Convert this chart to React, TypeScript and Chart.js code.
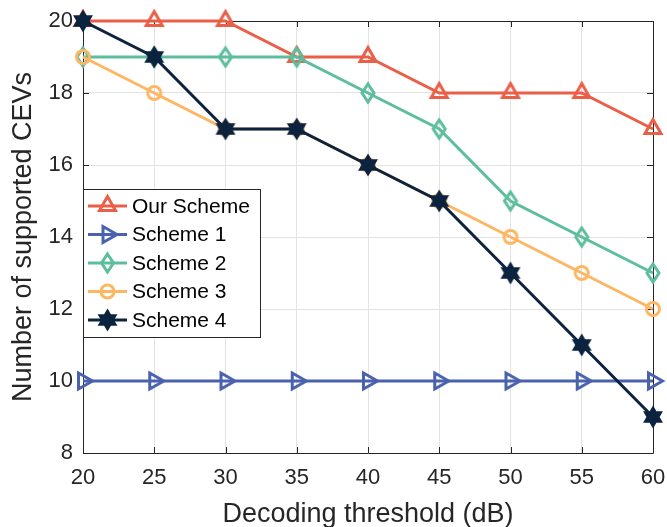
import React, { useEffect, useRef } from "react";
import { Chart, registerables } from "chart.js";

Chart.register(...registerables);

const thresholds = [20, 25, 30, 35, 40, 45, 50, 55, 60];
const ourScheme = [20, 20, 20, 19, 19, 18, 18, 18, 17];
const scheme1 = [10, 10, 10, 10, 10, 10, 10, 10, 10];
const scheme2 = [19, 19, 19, 19, 18, 17, 15, 14, 13];
const scheme3 = [19, 18, 17, 17, 16, 15, 14, 13, 12];
const scheme4 = [20, 19, 17, 17, 16, 15, 13, 11, 9];
const seriesNames = ["Our Scheme", "Scheme 1", "Scheme 2", "Scheme 3", "Scheme 4"];
const seriesValues = [ourScheme, scheme1, scheme2, scheme3, scheme4];
const seriesColors = ["#EA5F48", "#4A62AE", "#5DBE9E", "#FDB764", "#0C2340"];
const markerKinds = ["triangle", "triangleRight", "diamond", "circle", "hexagram"];
const xTitle = "Decoding threshold (dB)";
const yTitle = "Number of supported CEVs";

const FONT = "'Liberation Sans', Arial, Helvetica, sans-serif";
const AXIS_COLOR = "#262626";

function drawMarker(ctx: CanvasRenderingContext2D, kind: string, color: string, x: number, y: number) {
  ctx.save();
  ctx.translate(x, y);
  ctx.strokeStyle = color;
  ctx.fillStyle = color;
  ctx.lineWidth = 3;
  ctx.lineJoin = "miter";
  ctx.miterLimit = 4;
  ctx.beginPath();
  if (kind === "triangle") {
    ctx.moveTo(0, -9.5);
    ctx.lineTo(8, 4.5);
    ctx.lineTo(-8, 4.5);
    ctx.closePath();
    ctx.stroke();
  } else if (kind === "triangleRight") {
    ctx.moveTo(9.5, 0);
    ctx.lineTo(-4.5, -8);
    ctx.lineTo(-4.5, 8);
    ctx.closePath();
    ctx.stroke();
  } else if (kind === "diamond") {
    ctx.moveTo(0, -9);
    ctx.lineTo(6, 0);
    ctx.lineTo(0, 9);
    ctx.lineTo(-6, 0);
    ctx.closePath();
    ctx.stroke();
  } else if (kind === "circle") {
    ctx.arc(0, 0, 6.5, 0, Math.PI * 2);
    ctx.stroke();
  } else if (kind === "hexagram") {
    for (let k = 0; k < 12; k++) {
      const ang = -Math.PI / 2 + (k * Math.PI) / 6;
      const r = k % 2 === 0 ? 10 : 5.8;
      const px = Math.cos(ang) * r;
      const py = Math.sin(ang) * r;
      if (k === 0) ctx.moveTo(px, py);
      else ctx.lineTo(px, py);
    }
    ctx.closePath();
    ctx.fill();
    ctx.lineWidth = 1.5;
    ctx.stroke();
  }
  ctx.restore();
}

function makeMarkerCanvas(kind: string, color: string): HTMLCanvasElement {
  const c = document.createElement("canvas");
  c.width = 32;
  c.height = 32;
  const ctx = c.getContext("2d")!;
  drawMarker(ctx, kind, color, 16, 16);
  return c;
}

const axesPlugin = {
  id: "matlabAxes",
  beforeDatasetsDraw(chart: any) {
    const { ctx, chartArea } = chart;
    const { left, right, top, bottom } = chartArea;
    const xs = chart.scales.x;
    const ys = chart.scales.y;
    ctx.save();
    ctx.strokeStyle = AXIS_COLOR;
    ctx.lineWidth = 1;
    ctx.beginPath();
    ctx.rect(Math.round(left) + 0.5, Math.round(top) + 0.5, Math.round(right - left), Math.round(bottom - top));
    ctx.stroke();
    const tl = 6;
    ctx.beginPath();
    for (const v of thresholds) {
      const px = Math.round(xs.getPixelForValue(v)) + 0.5;
      ctx.moveTo(px, bottom);
      ctx.lineTo(px, bottom - tl);
      ctx.moveTo(px, top);
      ctx.lineTo(px, top + tl);
    }
    for (let v = 8; v <= 20; v += 2) {
      const py = Math.round(ys.getPixelForValue(v)) + 0.5;
      ctx.moveTo(left, py);
      ctx.lineTo(left + tl, py);
      ctx.moveTo(right, py);
      ctx.lineTo(right - tl, py);
    }
    ctx.stroke();
    ctx.restore();
  },
  afterDraw(chart: any) {
    const { ctx, chartArea } = chart;
    ctx.save();
    ctx.fillStyle = AXIS_COLOR;
    ctx.font = `27px ${FONT}`;
    ctx.textAlign = "center";
    ctx.textBaseline = "alphabetic";
    ctx.fillText(xTitle, (chartArea.left + chartArea.right) / 2, 522);
    ctx.translate(31, (chartArea.top + chartArea.bottom) / 2);
    ctx.rotate(-Math.PI / 2);
    ctx.fillText(yTitle, 0, 0);
    ctx.restore();
  },
};

const legendPlugin = {
  id: "insideLegend",
  afterDraw(chart: any) {
    const { ctx, chartArea } = chart;
    const bx = Math.round(chartArea.left) + 0.5;
    const by = 189.5;
    const bw = 177;
    const bh = 148;
    ctx.save();
    ctx.fillStyle = "#ffffff";
    ctx.fillRect(bx, by, bw, bh);
    ctx.strokeStyle = AXIS_COLOR;
    ctx.lineWidth = 1;
    ctx.strokeRect(bx, by, bw, bh);
    ctx.font = `21px ${FONT}`;
    ctx.textBaseline = "middle";
    ctx.textAlign = "left";
    seriesNames.forEach((name, i) => {
      const cy = 206 + i * 28.5;
      ctx.strokeStyle = seriesColors[i];
      ctx.lineWidth = 3;
      ctx.beginPath();
      ctx.moveTo(88, cy);
      ctx.lineTo(127, cy);
      ctx.stroke();
      drawMarker(ctx, markerKinds[i], seriesColors[i], 107.5, cy);
      ctx.fillStyle = "#000000";
      ctx.fillText(name, 132, cy + 1);
    });
    ctx.restore();
  },
};

export default function App() {
  const canvasRef = useRef<HTMLCanvasElement | null>(null);

  useEffect(() => {
    const canvas = canvasRef.current;
    if (!canvas) return;
    const markers = markerKinds.map((k, i) => makeMarkerCanvas(k, seriesColors[i]));
    const tickFont = { family: FONT, size: 22 };
    const chart = new Chart(canvas, {
      type: "line",
      data: {
        datasets: seriesNames.map((name, i) => ({
          label: name,
          data: thresholds.map((x, j) => ({ x, y: seriesValues[i][j] })),
          borderColor: seriesColors[i],
          backgroundColor: seriesColors[i],
          borderWidth: 3,
          pointStyle: markers[i] as any,
          pointRadius: 10,
          pointHoverRadius: 10,
          order: 4 - i,
          clip: false as any,
          fill: false,
          tension: 0,
        })),
      },
      options: {
        responsive: false,
        animation: false,
        devicePixelRatio: 1,
        events: [],
        layout: { padding: { left: 0, top: 21, right: 14, bottom: 0 } },
        plugins: { legend: { display: false }, tooltip: { enabled: false } },
        scales: {
          x: {
            type: "linear",
            min: 20,
            max: 60,
            ticks: { stepSize: 5, font: tickFont, color: AXIS_COLOR, padding: 12 },
            grid: { color: "#e3e3e3", drawTicks: false },
            border: { display: false },
            afterFit: (s: any) => {
              s.height = 74;
              s.paddingLeft = 0;
              s.paddingRight = 0;
            },
          },
          y: {
            type: "linear",
            min: 8,
            max: 20,
            ticks: { stepSize: 2, font: tickFont, color: AXIS_COLOR, padding: 10 },
            grid: { color: "#e3e3e3", drawTicks: false },
            border: { display: false },
            afterFit: (s: any) => {
              s.width = 83;
              s.paddingTop = 0;
              s.paddingBottom = 0;
            },
          },
        },
      },
      plugins: [axesPlugin, legendPlugin],
    });
    return () => chart.destroy();
  }, []);

  return (
    <div style={{ position: "absolute", left: 0, top: 0, width: 667, height: 527 }}>
      <canvas ref={canvasRef} width={667} height={527} style={{ display: "block" }} />
    </div>
  );
}
